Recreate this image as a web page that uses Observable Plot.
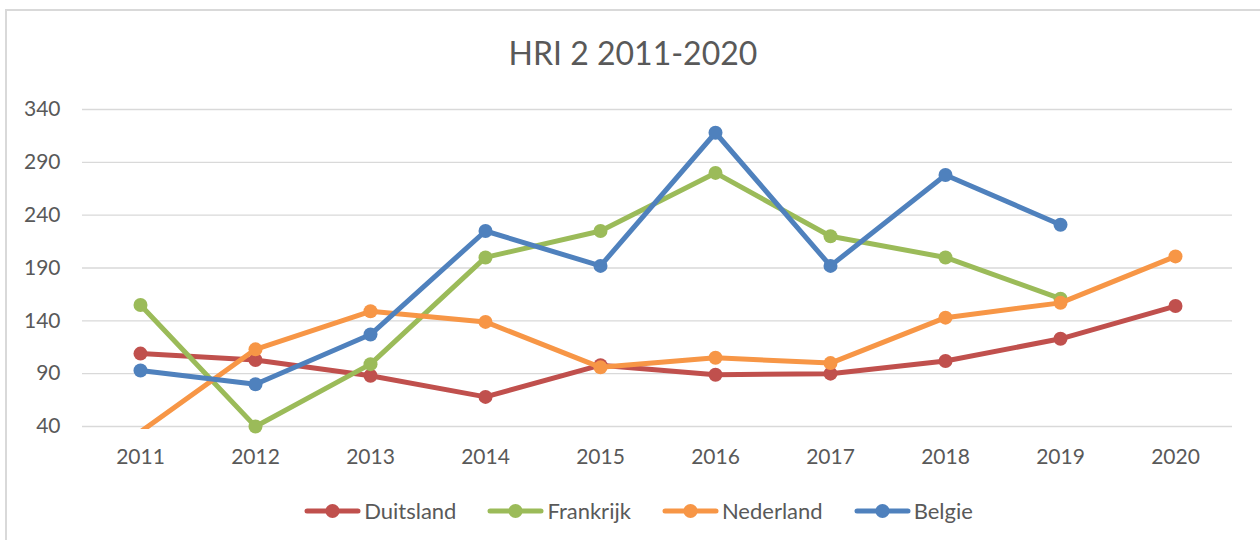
<!DOCTYPE html>
<html>
<head>
<meta charset="utf-8">
<script src="https://cdn.jsdelivr.net/npm/d3@7"></script>
<script src="https://cdn.jsdelivr.net/npm/@observablehq/plot@0.6"></script>
<style>
  html, body { margin: 0; padding: 0; background: #fff; }
  body { width: 1260px; height: 540px; overflow: hidden; position: relative; font-family: Lato, "Open Sans", sans-serif; }
  #frame { position: absolute; left: 5px; top: 9px; width: 1400px; height: 700px; border: 2px solid #d9d9d9; box-sizing: border-box; }
  #title { position: absolute; left: 0; top: 37px; width: 1266px; text-align: center; font-size: 32px; line-height: 32px; color: #595959; }
  #chart { position: absolute; left: 0; top: 0; }
  #legend { position: absolute; left: 0; top: 498px; width: 1277px; display: flex; justify-content: center; gap: 31px; font-size: 22px; color: #595959; line-height: 26px; }
  .item { display: flex; align-items: center; gap: 3px; }
</style>
</head>
<body>
<div id="frame"></div>
<div id="title">HRI 2 2011-2020</div>
<div id="chart"></div>
<div id="legend"></div>
<script>
const years = ["2011","2012","2013","2014","2015","2016","2017","2018","2019","2020"];
const seriesNames = ["Duitsland", "Frankrijk", "Nederland", "Belgie"];
const seriesColors = ["#C0504D", "#9BBB59", "#F79646", "#4F81BD"];
const duitsland = [109, 103, 88, 68, 98, 89, 90, 102, 123, 154];
const frankrijk = [155, 40, 99, 200, 225, 280, 220, 200, 161, null];
const nederland = [35, 113, 149, 139, 96, 105, 100, 143, 157, 201];
const belgie    = [93, 80, 127, 225, 192, 318, 192, 278, 231, null];
const yTicks = [40, 90, 140, 190, 240, 290, 340];

const seriesValues = [duitsland, frankrijk, nederland, belgie];
const data = seriesNames.flatMap((name, si) =>
  years.map((year, i) => ({ series: name, year, value: seriesValues[si][i] }))
);

const marks = [
  Plot.ruleY(yTicks, { stroke: "#d9d9d9", strokeWidth: 1.3 }),
  Plot.axisY({ ticks: yTicks, tickSize: 0, tickPadding: 22, fontSize: 21, fill: "#595959" }),
  Plot.axisX({ tickSize: 0, tickPadding: 20, fontSize: 21, fill: "#595959" })
];
seriesNames.forEach((name, si) => {
  const rows = data.filter(d => d.series === name);
  marks.push(Plot.line(rows, {
    x: "year", y: "value", stroke: seriesColors[si], strokeWidth: 5,
    strokeLinejoin: "round", strokeLinecap: "round", clip: true
  }));
  marks.push(Plot.dot(rows, {
    filter: d => d.value != null && d.value >= 40,
    x: "year", y: "value", r: 7, fill: seriesColors[si], stroke: "none"
  }));
});

const chart = Plot.plot({
  width: 1260,
  height: 480,
  marginLeft: 82,
  marginRight: 28,
  marginTop: 109,
  marginBottom: 51,
  insetBottom: 3,
  style: { fontFamily: "Lato, 'Open Sans', sans-serif", fontSize: "21px", color: "#595959", background: "transparent", overflow: "visible" },
  x: { type: "point", domain: years, padding: 0.5, label: null },
  y: { domain: [40, 340], label: null },
  marks
});
document.getElementById("chart").appendChild(chart);

const legend = document.getElementById("legend");
seriesNames.forEach((name, si) => {
  const item = document.createElement("div");
  item.className = "item";
  const ns = "http://www.w3.org/2000/svg";
  const sw = document.createElementNS(ns, "svg");
  sw.setAttribute("width", "57");
  sw.setAttribute("height", "16");
  const ln = document.createElementNS(ns, "line");
  ln.setAttribute("x1", "3"); ln.setAttribute("x2", "54");
  ln.setAttribute("y1", "8"); ln.setAttribute("y2", "8");
  ln.setAttribute("stroke", seriesColors[si]);
  ln.setAttribute("stroke-width", "5");
  ln.setAttribute("stroke-linecap", "round");
  const c = document.createElementNS(ns, "circle");
  c.setAttribute("cx", "28.5"); c.setAttribute("cy", "8"); c.setAttribute("r", "7");
  c.setAttribute("fill", seriesColors[si]);
  sw.appendChild(ln); sw.appendChild(c);
  const label = document.createElement("span");
  label.textContent = name;
  item.appendChild(sw); item.appendChild(label);
  legend.appendChild(item);
});
</script>
</body>
</html>
